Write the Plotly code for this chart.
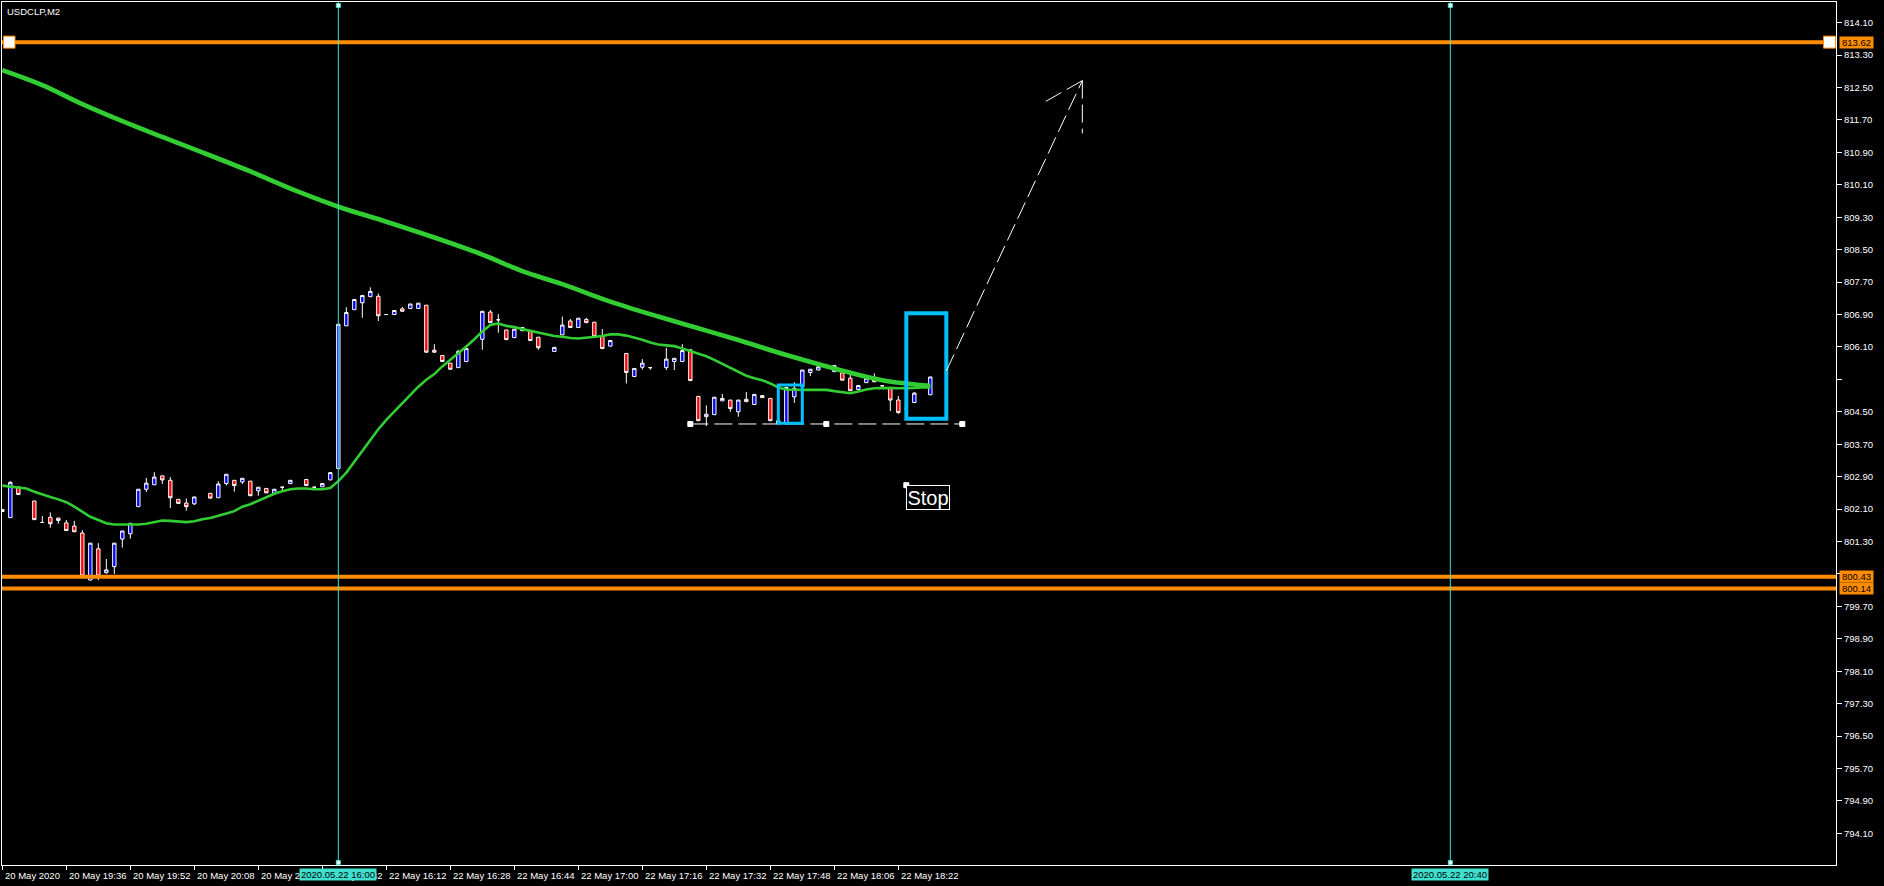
import plotly.graph_objects as go

# ---------------- data (2-minute bars, slot 0 = 22 May 16:00) ----------------
bar_idx = [-42, -41, -40, -38, -37, -36, -35, -34, -33, -32, -31, -30, -29, -28, -27, -26,
           -25, -24, -23, -22, -21, -20, -19, -18, -16, -15, -14, -13, -12, -11, -10, -9,
           -8, -7, -6, -4, -3, -2, -1, 0, 1, 2, 3, 4, 5, 6, 7, 8, 9, 10, 11, 12, 13, 14,
           15, 16, 18, 19, 20, 21, 22, 23, 24, 25, 27, 28, 29, 30, 31, 32, 33, 34, 36, 37,
           38, 39, 41, 42, 43, 44, 45, 46, 47, 48, 49, 50, 51, 52, 53, 54, 55, 56, 57, 58,
           59, 60, 62, 63, 64, 65, 66, 67, 68, 69, 70, 71, 72, 74]
opens = [802.04, 801.89, 802.65, 802.30, 801.77, 801.90, 801.88, 801.76, 801.68, 801.51, 800.35, 801.12, 800.53, 800.68, 801.36, 801.49,
         802.16, 802.59, 802.70, 802.92, 802.81, 802.34, 802.25, 802.23, 802.49, 802.38, 802.73, 802.81, 802.77, 802.79, 802.55, 802.61,
         802.49, 802.64, 802.73, 802.83, 802.64, 802.65, 802.82, 803.10, 806.62, 807.02, 807.19, 807.34, 807.35, 806.90, 806.90, 807.04, 807.05, 807.05, 807.13, 806.02, 805.89, 805.70,
         805.59, 805.74, 806.29, 806.96, 806.77, 806.52, 806.33, 806.58, 806.48, 806.34, 805.99, 806.40, 806.74, 806.58, 806.78, 806.71, 806.36, 806.12, 805.94, 805.37,
         805.60, 805.59, 805.59, 805.74, 805.74, 806.03, 804.88, 804.38, 804.43, 804.77, 804.79, 804.50, 804.81, 804.68, 804.90, 804.83, 804.21, 804.20, 804.87, 805.12,
         805.47, 805.53, 805.49, 805.46, 805.33, 805.05, 805.22, 805.32, 805.14, 805.10, 804.79, 804.59, 804.73, 804.92]
highs = [802.10, 802.79, 802.65, 802.30, 801.93, 802.02, 801.88, 801.83, 801.81, 801.58, 801.26, 801.26, 800.87, 801.26, 801.56, 801.75,
         802.59, 802.87, 803.01, 802.92, 802.89, 802.34, 802.36, 802.40, 802.49, 802.79, 802.96, 802.81, 802.86, 802.79, 802.64, 802.61,
         802.59, 802.64, 802.81, 802.83, 802.64, 802.73, 803.00, 806.66, 807.08, 807.27, 807.37, 807.57, 807.42, 806.90, 807.00, 807.09, 807.16, 807.18, 807.13, 806.17, 805.89, 805.70,
         806.03, 806.06, 806.98, 807.01, 806.91, 806.52, 806.54, 806.58, 806.48, 806.34, 806.09, 806.85, 806.79, 806.81, 806.82, 806.71, 806.54, 806.26, 805.94, 805.57,
         805.80, 805.59, 806.08, 805.82, 806.17, 806.03, 804.88, 804.66, 804.86, 804.94, 804.79, 804.79, 804.99, 804.93, 804.90, 804.83, 804.40, 805.10, 805.23, 805.53,
         805.55, 805.61, 805.64, 805.46, 805.42, 805.15, 805.33, 805.45, 805.14, 805.10, 804.89, 804.59, 804.99, 805.36]
lows = [802.03, 801.89, 802.46, 801.84, 801.77, 801.64, 801.74, 801.57, 801.54, 800.43, 800.34, 800.35, 800.51, 800.50, 801.15, 801.37,
        802.16, 802.52, 802.70, 802.72, 802.13, 802.24, 802.06, 802.20, 802.37, 802.38, 802.68, 802.53, 802.72, 802.43, 802.43, 802.50,
        802.49, 802.57, 802.73, 802.68, 802.64, 802.65, 802.82, 803.10, 806.62, 807.02, 806.82, 807.34, 806.74, 806.90, 806.90, 806.98, 807.05, 807.05, 805.97, 805.97, 805.74, 805.55,
        805.59, 805.74, 806.03, 806.70, 806.45, 806.28, 806.33, 806.50, 806.26, 806.03, 805.99, 806.40, 806.58, 806.58, 806.70, 806.36, 806.06, 806.12, 805.20, 805.37,
        805.54, 805.54, 805.53, 805.53, 805.74, 805.27, 804.28, 804.15, 804.43, 804.77, 804.50, 804.38, 804.75, 804.68, 804.85, 804.28, 804.20, 804.20, 804.72, 805.12,
        805.38, 805.53, 805.49, 805.28, 805.02, 805.05, 805.22, 805.24, 805.14, 804.52, 804.45, 804.59, 804.73, 804.92]
closes = [802.09, 802.76, 802.46, 801.84, 801.77, 801.74, 801.82, 801.57, 801.54, 800.45, 801.26, 800.45, 800.60, 801.26, 801.56, 801.75,
          802.59, 802.74, 802.89, 802.82, 802.38, 802.24, 802.16, 802.40, 802.37, 802.72, 802.96, 802.68, 802.86, 802.43, 802.64, 802.50,
          802.59, 802.64, 802.81, 802.68, 802.64, 802.73, 803.00, 806.66, 806.95, 807.27, 807.37, 807.47, 806.87, 806.90, 807.00, 806.98, 807.16, 807.18, 805.97, 805.97, 805.74, 805.55,
          805.99, 806.06, 806.98, 806.70, 806.77, 806.28, 806.54, 806.50, 806.26, 806.08, 806.09, 806.64, 806.58, 806.81, 806.70, 806.36, 806.06, 806.26, 805.47, 805.57,
          805.70, 805.59, 805.80, 805.82, 806.01, 805.27, 804.28, 804.44, 804.86, 804.83, 804.58, 804.79, 804.75, 804.93, 804.85, 804.28, 804.28, 805.10, 805.08, 805.53,
          805.55, 805.61, 805.64, 805.28, 805.02, 805.15, 805.33, 805.24, 805.14, 804.79, 804.48, 804.59, 804.96, 805.36]

fast_ma_idx = list(range(-42, 75))
fast_ma = [802.68, 802.66, 802.63, 802.61, 802.53, 802.46, 802.40, 802.34, 802.27, 802.16, 802.03, 801.91, 801.83, 801.75, 801.72, 801.72,
           801.71, 801.72, 801.74, 801.78, 801.82, 801.81, 801.80, 801.78, 801.80, 801.85, 801.88, 801.93, 801.99, 802.05, 802.16, 802.22,
           802.31, 802.39, 802.48, 802.54, 802.59, 802.61, 802.61, 802.59, 802.59, 802.62, 802.79, 803.00, 803.27, 803.55, 803.83, 804.07,
           804.30, 804.50, 804.71, 804.92, 805.12, 805.29, 805.43, 805.62, 805.78, 805.94, 806.11, 806.29, 806.48, 806.64, 806.68, 806.62,
           806.59, 806.54, 806.50, 806.45, 806.42, 806.37, 806.35, 806.32, 806.31, 806.33, 806.35, 806.37, 806.41, 806.41, 806.38, 806.33,
           806.28, 806.21, 806.16, 806.14, 806.12, 806.06, 806.00, 805.94, 805.87, 805.78, 805.68, 805.57, 805.47, 805.39, 805.33, 805.28,
           805.20, 805.10, 805.05, 805.04, 805.04, 805.04, 805.04, 805.04, 805.01, 804.99, 804.96, 805.00, 805.05, 805.08, 805.09, 805.09,
           805.08, 805.08, 805.09, 805.10, 805.10]
slow_ma_idx = [-42, -37, -32, -27, -22, -17, -11, -5, 0, 6, 12, 18, 23, 28, 34, 40, 45, 50, 56, 62, 68, 74]
slow_ma = [812.93, 812.56, 812.09, 811.67, 811.28, 810.90, 810.43, 809.93, 809.56, 809.19, 808.80, 808.38, 807.97, 807.65,
           807.22, 806.85, 806.56, 806.27, 805.90, 805.57, 805.28, 805.14]

xtick_idx = [-42, -34, -26, -18, -10, -2, 6, 14, 22, 30, 38, 46, 54, 62, 70]
xtick_text = ["20 May 2020", "20 May 19:36", "20 May 19:52", "20 May 20:08", "20 May 20:24", "20 May 20:42",
              "22 May 16:12", "22 May 16:28", "22 May 16:44", "22 May 17:00", "22 May 17:16", "22 May 17:32",
              "22 May 17:48", "22 May 18:06", "22 May 18:22"]
ytick_text = ["794.10", "794.90", "795.70", "796.50", "797.30", "798.10", "798.90", "799.70", "800.50", "801.30",
              "802.10", "802.90", "803.70", "804.50", "805.30", "806.10", "806.90", "807.70", "808.50", "809.30",
              "810.10", "810.90", "811.70", "812.50", "813.30", "814.10"]
ytick_hidden = ["805.30"]

h_levels = [813.62, 800.43, 800.14]
v_lines_idx = [0, 139]
v_lines_text = ["2020.05.22 16:00", "2020.05.22 20:40"]
rect_small = [55, 58, 804.22, 805.16]
rect_large = [71, 76, 804.33, 806.93]
hline_x = [44, 61, 78]
hline_y = 804.20
arrow_main = [(76, 805.51), (93, 812.67)]
arrow_head = [(88, 812.11), (93, 812.67), (93, 811.37)]
stop_pos = (71, 802.69)
stop_text = "Stop"
title_text = "USDCLP,M2"

x_range = [-42.04, 187.21]
y_range = [793.32, 814.61]

# ---------------- styles ----------------
FONT = "Liberation Sans, Arial, sans-serif"
ORANGE = "#FF8C00"
TURQ = "#40E0D0"
SKY = "#00BFFF"
GREEN = "#32CD32"
DASH = "18px,6px"

fig = go.Figure()
fig.add_trace(go.Candlestick(
    x=bar_idx, open=opens, high=highs, low=lows, close=closes,
    increasing=dict(fillcolor="#0000FF", line=dict(color="white", width=1)),
    decreasing=dict(fillcolor="#FF0000", line=dict(color="white", width=1)),
    whiskerwidth=0, hoverinfo="skip", showlegend=False))
fig.add_trace(go.Scatter(x=fast_ma_idx, y=fast_ma, mode="lines",
                         line=dict(color=GREEN, width=2.6), hoverinfo="skip", showlegend=False))
fig.add_trace(go.Scatter(x=slow_ma_idx, y=slow_ma, mode="lines", line_shape="spline",
                         line=dict(color=GREEN, width=4.6), hoverinfo="skip", showlegend=False))

shapes = []


def sq(xv, yv, size, fill, edge, xref="x", yref="y", lw=1):
    h = size / 2.0
    return dict(type="rect", xref=xref, yref=yref, xsizemode="pixel", ysizemode="pixel",
                xanchor=xv, yanchor=yv, x0=-h, x1=h, y0=-h, y1=h,
                fillcolor=fill, line=dict(color=edge, width=lw), layer="above")


# orange horizontal levels
for lv in h_levels:
    shapes.append(dict(type="line", xref="paper", yref="y", x0=0, x1=1, y0=lv, y1=lv,
                       line=dict(color=ORANGE, width=4), layer="above"))
# end squares of the top level
shapes.append(dict(type="rect", xref="paper", yref="y", xsizemode="pixel", ysizemode="pixel",
                   xanchor=0, yanchor=h_levels[0], x0=1.5, x1=13, y0=-6, y1=6,
                   fillcolor="white", line=dict(color=ORANGE, width=1), layer="above"))
shapes.append(dict(type="rect", xref="paper", yref="y", xsizemode="pixel", ysizemode="pixel",
                   xanchor=1, yanchor=h_levels[0], x0=-12.5, x1=-0.5, y0=-6, y1=6,
                   fillcolor="white", line=dict(color=ORANGE, width=1), layer="above"))

# vertical turquoise lines
for vx in v_lines_idx:
    shapes.append(dict(type="line", xref="x", yref="paper", x0=vx, x1=vx, y0=0, y1=1,
                       line=dict(color=TURQ, width=1), layer="above"))
    shapes.append(dict(type="rect", xref="x", yref="paper", xsizemode="pixel", ysizemode="pixel",
                       xanchor=vx, yanchor=1, x0=-2, x1=2, y0=-5.5, y1=-1.5,
                       fillcolor="white", line=dict(color=TURQ, width=1), layer="above"))
    shapes.append(dict(type="rect", xref="x", yref="paper", xsizemode="pixel", ysizemode="pixel",
                       xanchor=vx, yanchor=0, x0=-2, x1=2, y0=0.5, y1=4.5,
                       fillcolor="white", line=dict(color=TURQ, width=1), layer="above"))

# dashed horizontal trend line with anchors
shapes.append(dict(type="line", xref="x", yref="y", x0=hline_x[0], x1=hline_x[-1], y0=hline_y, y1=hline_y,
                   line=dict(color="white", width=1, dash=DASH), layer="above"))

# rectangles
shapes.append(dict(type="rect", xref="x", yref="y", x0=rect_small[0], x1=rect_small[1],
                   y0=rect_small[2], y1=rect_small[3], line=dict(color=SKY, width=3), layer="above"))
shapes.append(dict(type="rect", xref="x", yref="y", x0=rect_large[0], x1=rect_large[1],
                   y0=rect_large[2], y1=rect_large[3], line=dict(color=SKY, width=4), layer="above"))

for hx in hline_x:
    shapes.append(sq(hx, hline_y, 5, "white", "white"))

# arrow
shapes.append(dict(type="line", xref="x", yref="y", x0=arrow_main[0][0], y0=arrow_main[0][1],
                   x1=arrow_main[1][0], y1=arrow_main[1][1], line=dict(color="white", width=1, dash=DASH), layer="above"))
for k in (0, 2):
    shapes.append(dict(type="line", xref="x", yref="y", x0=arrow_head[1][0], y0=arrow_head[1][1],
                       x1=arrow_head[k][0], y1=arrow_head[k][1], line=dict(color="white", width=1, dash=DASH), layer="above"))

annotations = []
# stop label
annotations.append(dict(x=stop_pos[0], y=stop_pos[1], xref="x", yref="y", text=stop_text, showarrow=False,
                        xanchor="left", yanchor="top", font=dict(family=FONT, size=20, color="white"),
                        bordercolor="white", borderwidth=1, borderpad=0, bgcolor="black", width=42, height=23))
shapes.append(sq(stop_pos[0], stop_pos[1], 5, "white", "white"))

# title
annotations.append(dict(x=0, y=1, xref="paper", yref="paper", text=title_text, showarrow=False,
                        xanchor="left", yanchor="top", xshift=3, yshift=-2,
                        font=dict(family=FONT, size=9.5, color="white")))
# x labels (left aligned after tick)
for tx, tt in zip(xtick_idx, xtick_text):
    annotations.append(dict(x=tx, y=0, xref="x", yref="paper", text=tt, showarrow=False,
                            xanchor="left", yanchor="top", xshift=1, yshift=-3,
                            font=dict(family=FONT, size=9.5, color="white")))
# orange price boxes
for lv in h_levels:
    annotations.append(dict(x=1, y=lv, xref="paper", yref="y", text=f"{lv:.2f}", showarrow=False,
                            xanchor="left", yanchor="middle", xshift=3, bgcolor=ORANGE, borderpad=0,
                            width=33, height=11, font=dict(family=FONT, size=9.5, color="black")))
# turquoise time boxes
for vx, vt in zip(v_lines_idx, v_lines_text):
    annotations.append(dict(x=vx, y=0, xref="x", yref="paper", text=vt, showarrow=False,
                            xanchor="center", yanchor="top", yshift=-3, bgcolor=TURQ, borderpad=0,
                            width=76, height=11, font=dict(family=FONT, size=9.5, color="black")))

ytick_vals = [float(t) for t in ytick_text]
ytick_lbl = ["" if t in ytick_hidden else t for t in ytick_text]

fig.update_layout(
    width=1884, height=886,
    margin=dict(l=2, r=48, t=2, b=21, pad=0),
    paper_bgcolor="black", plot_bgcolor="black",
    font=dict(family=FONT, size=9.5, color="white"),
    boxgap=0.4,
    shapes=shapes, annotations=annotations,
    showlegend=False,
    xaxis=dict(range=x_range, showgrid=False, zeroline=False, showline=True, linecolor="white",
               linewidth=1, mirror=True, ticks="outside", ticklen=4, tickcolor="white",
               tickvals=xtick_idx, showticklabels=False, rangeslider=dict(visible=False), fixedrange=True),
    yaxis=dict(range=y_range, side="right", showgrid=False, zeroline=False, showline=True,
               linecolor="white", linewidth=1, mirror=True, ticks="outside", ticklen=5,
               tickcolor="white", tickvals=ytick_vals, ticktext=ytick_lbl,
               tickfont=dict(family=FONT, size=9.5, color="white"), fixedrange=True),
)

fig.write_html("out.html", config={"displayModeBar": False},
               post_script="document.body.style.margin='0';document.body.style.background='black';")
